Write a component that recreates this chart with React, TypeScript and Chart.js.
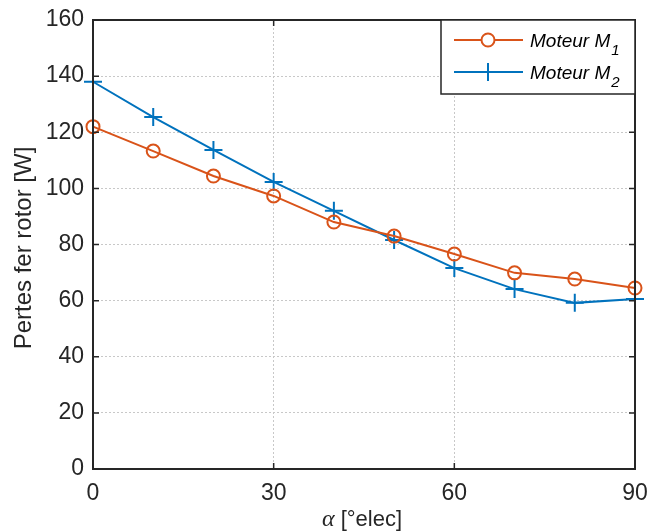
import React, { useEffect, useRef } from "react";
import { Chart, registerables } from "chart.js";

Chart.register(...registerables);

const alphaDeg = [0, 10, 20, 30, 40, 50, 60, 70, 80, 90];
const moteurM1 = [122, 113.3, 104.4, 97.3, 88, 83, 76.6, 69.9, 67.7, 64.5];
const moteurM2 = [138, 125.4, 113.7, 102.3, 92, 81.6, 71.6, 64.1, 59.2, 60.6];
const xTicks = [0, 30, 60, 90];
const yTicks = [0, 20, 40, 60, 80, 100, 120, 140, 160];
const legendNames = ["Moteur M", "Moteur M"];
const legendSubs = ["1", "2"];
const yTitle = "Pertes fer rotor [W]";
const xTitleSymbol = "α";
const xTitleRest = " [°elec]";

const ORANGE = "#D95319";
const BLUE = "#0072BD";
const AXIS = "#262626";
const SANS = "'Liberation Sans', Arial, sans-serif";

const framePlugin = {
  id: "frame",
  afterDraw(chart: any) {
    const { ctx, chartArea: a, scales } = chart;
    const xs = scales.x;
    const ys = scales.y;
    ctx.save();
    // box
    ctx.strokeStyle = AXIS;
    ctx.lineWidth = 2;
    ctx.strokeRect(a.left, a.top, a.right - a.left, a.bottom - a.top);
    // inward ticks
    ctx.lineWidth = 1.5;
    ctx.beginPath();
    for (const t of xTicks) {
      const px = xs.getPixelForValue(t);
      ctx.moveTo(px, a.bottom);
      ctx.lineTo(px, a.bottom - 6);
      ctx.moveTo(px, a.top);
      ctx.lineTo(px, a.top + 6);
    }
    for (const t of yTicks) {
      const py = ys.getPixelForValue(t);
      ctx.moveTo(a.left, py);
      ctx.lineTo(a.left + 6, py);
      ctx.moveTo(a.right, py);
      ctx.lineTo(a.right - 6, py);
    }
    ctx.stroke();

    // y title
    ctx.fillStyle = AXIS;
    ctx.font = `24px ${SANS}`;
    ctx.textAlign = "center";
    ctx.textBaseline = "middle";
    ctx.save();
    ctx.translate(24, 248);
    ctx.rotate(-Math.PI / 2);
    ctx.fillText(yTitle, 0, 0);
    ctx.restore();

    // x title
    const serif = `italic 24px 'Liberation Serif', 'Times New Roman', serif`;
    const sans = `22px ${SANS}`;
    ctx.font = serif;
    const w1 = ctx.measureText(xTitleSymbol).width;
    ctx.font = sans;
    const w2 = ctx.measureText(xTitleRest).width;
    const cx = 362;
    const startX = cx - (w1 + w2) / 2;
    ctx.textAlign = "left";
    ctx.textBaseline = "alphabetic";
    ctx.font = serif;
    ctx.fillText(xTitleSymbol, startX, 526);
    ctx.font = sans;
    ctx.fillText(xTitleRest, startX + w1, 526);

    // legend
    const lx = 441, ly = 20, lw = 194, lh = 74;
    ctx.fillStyle = "#ffffff";
    ctx.fillRect(lx, ly, lw, lh);
    ctx.strokeStyle = AXIS;
    ctx.lineWidth = 1.5;
    ctx.strokeRect(lx, ly, lw, lh);
    const colors = [ORANGE, BLUE];
    const rows = [40, 72];
    for (let i = 0; i < 2; i++) {
      const y = rows[i];
      ctx.strokeStyle = colors[i];
      ctx.lineWidth = 2;
      ctx.beginPath();
      ctx.moveTo(454, y);
      ctx.lineTo(523, y);
      ctx.stroke();
      ctx.beginPath();
      if (i === 0) {
        ctx.arc(488, y, 6.5, 0, Math.PI * 2);
        ctx.fillStyle = "#fff";
        ctx.fill();
      } else {
        ctx.moveTo(488, y - 9);
        ctx.lineTo(488, y + 9);
      }
      ctx.stroke();
      ctx.fillStyle = "#000";
      ctx.font = `italic 19px ${SANS}`;
      ctx.textAlign = "left";
      ctx.textBaseline = "alphabetic";
      ctx.fillText(legendNames[i], 530, y + 7);
      const nw = ctx.measureText(legendNames[i]).width;
      ctx.font = `italic 15px ${SANS}`;
      ctx.fillText(legendSubs[i], 531 + nw, y + 15);
    }
    ctx.restore();
  },
};

export default function App() {
  const ref = useRef<HTMLCanvasElement | null>(null);
  useEffect(() => {
    if (!ref.current) return;
    const chart = new Chart(ref.current, {
      type: "line",
      data: {
        datasets: [
          {
            label: "Moteur M1",
            data: alphaDeg.map((x, i) => ({ x, y: moteurM1[i] })),
            borderColor: ORANGE,
            backgroundColor: "rgba(0,0,0,0)",
            borderWidth: 2,
            pointStyle: "circle",
            pointRadius: 6.5,
            pointBorderWidth: 2,
            pointBorderColor: ORANGE,
            pointBackgroundColor: "rgba(0,0,0,0)",
            tension: 0,
            clip: false,
          },
          {
            label: "Moteur M2",
            data: alphaDeg.map((x, i) => ({ x, y: moteurM2[i] })),
            borderColor: BLUE,
            backgroundColor: "rgba(0,0,0,0)",
            borderWidth: 2,
            pointStyle: "cross",
            pointRadius: 9,
            pointBorderWidth: 2,
            pointBorderColor: BLUE,
            tension: 0,
            clip: false,
          },
        ],
      },
      options: {
        animation: false,
        responsive: false,
        maintainAspectRatio: false,
        layout: { padding: { top: 20, right: 14, left: 0, bottom: 0 } },
        plugins: { legend: { display: false }, tooltip: { enabled: false } },
        scales: {
          x: {
            type: "linear",
            min: 0,
            max: 90,
            afterBuildTicks: (s: any) => {
              s.ticks = xTicks.map((v) => ({ value: v }));
            },
            afterFit: (s: any) => {
              s.height = 62;
              s.paddingLeft = 0;
              s.paddingRight = 0;
            },
            grid: {
              color: "#c8c8c8",
              lineWidth: 1,
              drawTicks: false,
            },
            border: { display: false, dash: [2, 2] },
            ticks: {
              color: AXIS,
              font: { family: SANS, size: 23 },
              padding: 11,
              maxRotation: 0,
            },
          },
          y: {
            type: "linear",
            min: 0,
            max: 160,
            afterBuildTicks: (s: any) => {
              s.ticks = yTicks.map((v) => ({ value: v }));
            },
            afterFit: (s: any) => {
              s.width = 93;
              s.paddingTop = 0;
              s.paddingBottom = 0;
            },
            grid: {
              color: "#c8c8c8",
              lineWidth: 1,
              drawTicks: false,
            },
            border: { display: false, dash: [2, 2] },
            ticks: {
              color: AXIS,
              font: { family: SANS, size: 23 },
              padding: 9,
            },
          },
        },
      },
      plugins: [framePlugin],
    } as any);
    return () => chart.destroy();
  }, []);
  return (
    <div style={{ position: "fixed", left: 0, top: 0, width: 649, height: 531, background: "#fff" }}>
      <canvas ref={ref} width={649} height={531} style={{ width: 649, height: 531 }} />
    </div>
  );
}
